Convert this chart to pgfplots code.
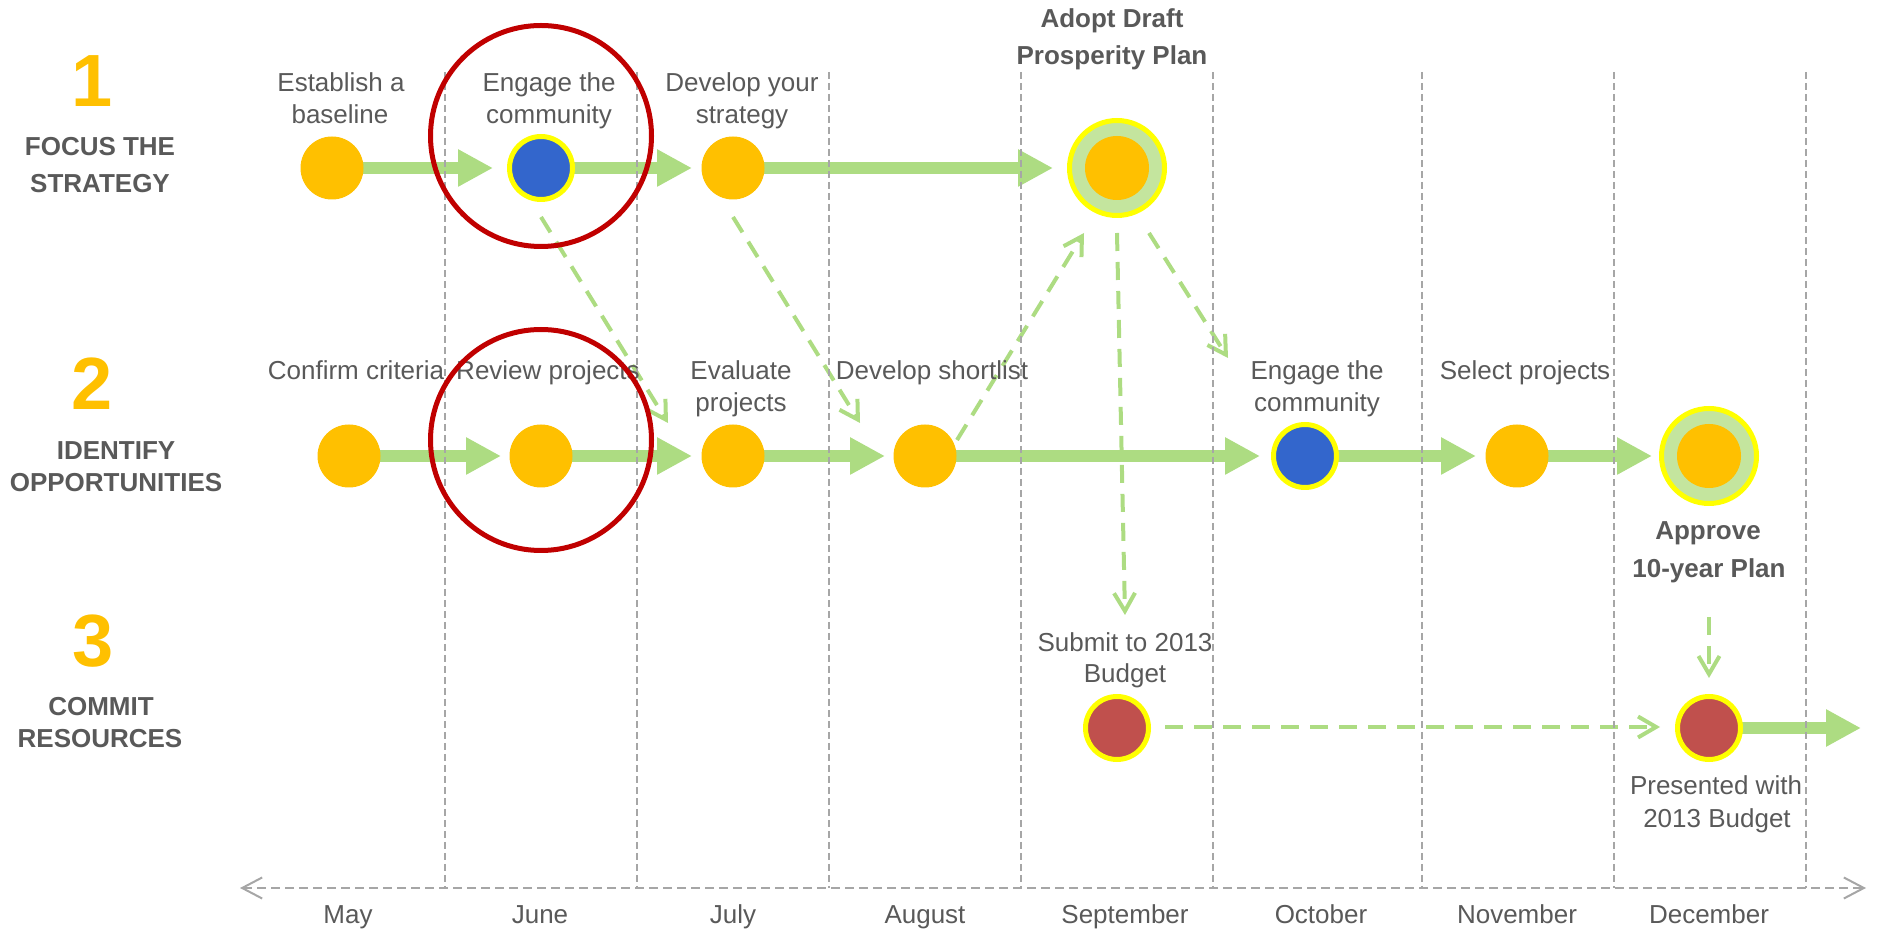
\documentclass[border=0pt]{standalone}
\usepackage{fontspec}
\setmainfont{Liberation Sans}
\usepackage{pgfplots}
\pgfplotsset{compat=1.18}
\usetikzlibrary{arrows.meta}
\definecolor{orng}{HTML}{FFC000}
\definecolor{blu}{HTML}{3366CC}
\definecolor{redc}{HTML}{C0504D}
\definecolor{yel}{HTML}{FFFF00}
\definecolor{ring}{HTML}{C4E59E}
\definecolor{arr}{HTML}{ADDC82}
\definecolor{grd}{HTML}{A6A6A6}
\definecolor{txt}{HTML}{595959}
\definecolor{dred}{HTML}{C00000}
\tikzset{
  gline/.style={grd, line width=1pt, dash pattern=on 3.5pt off 2pt},
  barrow/.style={arr, line width=5.75pt, -{Triangle[length=17.5pt,width=17.5pt]}},
  darrow/.style={arr, line width=2pt, dash pattern=on 9pt off 5.5pt, -{Straight Barb[length=9pt,width=10.5pt]}},
  lbl/.style={anchor=base, text=txt, inner sep=0pt, font=\fontsize{13pt}{16pt}\selectfont},
  blbl/.style={anchor=base, text=txt, inner sep=0pt, font=\bfseries\fontsize{13pt}{16pt}\selectfont},
  num/.style={anchor=base, text=orng, inner sep=0pt, font=\bfseries\fontsize{37pt}{40pt}\selectfont},
}
\begin{document}
\begin{tikzpicture}
\useasboundingbox (0,0) rectangle (940.5pt,469pt);
\begin{axis}[at={(0,0)}, anchor=south west, width=940.5pt, height=469pt, scale only axis,
  xmin=0, xmax=1881, ymin=-938, ymax=0, hide axis, clip=false]
% dashed connectors
\addplot[darrow] coordinates {(541,-217) (668,-423)};
\addplot[darrow] coordinates {(733,-217) (860,-423)};
\addplot[darrow] coordinates {(957,-440) (1084,-233)};
\addplot[darrow] coordinates {(1117,-233) (1125,-615)};
\addplot[darrow] coordinates {(1149,-233) (1228,-358)};
\addplot[darrow] coordinates {(1165,-727) (1660,-727)};
\addplot[darrow] coordinates {(1709,-617) (1709,-678)};
% main arrows row 1
\addplot[barrow] coordinates {(332,-168) (493,-168)};
\addplot[barrow] coordinates {(541,-168) (692,-168)};
\addplot[barrow] coordinates {(733,-168) (1053,-168)};
% row 2
\addplot[barrow] coordinates {(349,-456) (501,-456)};
\addplot[barrow] coordinates {(541,-456) (692,-456)};
\addplot[barrow] coordinates {(733,-456) (885,-456)};
\addplot[barrow] coordinates {(925,-456) (1260,-456)};
\addplot[barrow] coordinates {(1305,-456) (1476,-456)};
\addplot[barrow] coordinates {(1517,-456) (1652,-456)};
% row 3
\addplot[barrow] coordinates {(1709,-728) (1861,-728)};
% grid lines
\addplot[gline] coordinates {(445,-72) (445,-888)};
\addplot[gline] coordinates {(637,-72) (637,-888)};
\addplot[gline] coordinates {(829,-72) (829,-888)};
\addplot[gline] coordinates {(1021,-72) (1021,-888)};
\addplot[gline] coordinates {(1213,-72) (1213,-888)};
\addplot[gline] coordinates {(1422,-72) (1422,-888)};
\addplot[gline] coordinates {(1614,-72) (1614,-888)};
\addplot[gline] coordinates {(1806,-72) (1806,-888)};
\addplot[grd, line width=1pt, dash pattern=on 4.5pt off 2.5pt,
  {Straight Barb[length=10pt,width=10.5pt]}-{Straight Barb[length=10pt,width=10.5pt]}]
  coordinates {(240,-888) (1866,-888)};
% circles
\addplot[orng, only marks, mark=*, mark size=15.5pt, mark options={fill=orng, draw=orng, line width=0.5pt}]
  coordinates {(332,-168) (733,-168) (349,-456) (541,-456) (733,-456) (925,-456) (1517,-456)};
\addplot[yel, only marks, mark=*, mark size=15.75pt, mark options={fill=blu, draw=yel, line width=2.5pt}]
  coordinates {(541,-168) (1305,-456)};
\addplot[yel, only marks, mark=*, mark size=15.75pt, mark options={fill=redc, draw=yel, line width=2.5pt}]
  coordinates {(1117,-728) (1709,-728)};
\addplot[yel, only marks, mark=*, mark size=23.75pt, mark options={fill=ring, draw=yel, line width=2.5pt}]
  coordinates {(1117,-168) (1709,-456)};
\addplot[orng, only marks, mark=*, mark size=15.75pt, mark options={fill=orng, draw=orng, line width=0.5pt}]
  coordinates {(1117,-168) (1709,-456)};
% highlight rings
\addplot[dred, only marks, mark=o, mark size=55.25pt, mark options={draw=dred, line width=2.5pt}]
  coordinates {(541,-136) (541,-440)};
% left labels
\node[num] at (axis cs:92,-107) {1};
\node[blbl] at (axis cs:100,-156) {FOCUS THE};
\node[blbl] at (axis cs:100,-193) {STRATEGY};
\node[num] at (axis cs:92,-410) {2};
\node[blbl] at (axis cs:116,-460) {IDENTIFY};
\node[blbl] at (axis cs:116,-492) {OPPORTUNITIES};
\node[num] at (axis cs:93,-667) {3};
\node[blbl] at (axis cs:101,-716) {COMMIT};
\node[blbl] at (axis cs:100,-748) {RESOURCES};
% row 1 labels
\node[lbl] at (axis cs:341,-92) {Establish a};
\node[lbl] at (axis cs:340,-123.5) {baseline};
\node[lbl] at (axis cs:549,-92) {Engage the};
\node[lbl] at (axis cs:549,-123.5) {community};
\node[lbl] at (axis cs:742,-92) {Develop your};
\node[lbl] at (axis cs:742,-123.5) {strategy};
\node[blbl] at (axis cs:1112,-28) {Adopt Draft};
\node[blbl] at (axis cs:1112,-65) {Prosperity Plan};
% row 2 labels
\node[lbl] at (axis cs:356,-380) {Confirm criteria};
\node[lbl] at (axis cs:548,-380) {Review projects};
\node[lbl] at (axis cs:741,-380) {Evaluate};
\node[lbl] at (axis cs:741,-412) {projects};
\node[lbl] at (axis cs:932,-380) {Develop shortlist};
\node[lbl] at (axis cs:1317,-380) {Engage the};
\node[lbl] at (axis cs:1317,-412) {community};
\node[lbl] at (axis cs:1525,-380) {Select projects};
\node[blbl] at (axis cs:1708,-540) {Approve};
\node[blbl] at (axis cs:1709,-578) {10-year Plan};
% row 3 labels
\node[lbl] at (axis cs:1125,-652) {Submit to 2013};
\node[lbl] at (axis cs:1125,-683) {Budget};
\node[lbl] at (axis cs:1716,-795) {Presented with};
\node[lbl] at (axis cs:1717,-827) {2013 Budget};
% months
\node[lbl] at (axis cs:348,-923) {May};
\node[lbl] at (axis cs:540,-923) {June};
\node[lbl] at (axis cs:733,-923) {July};
\node[lbl] at (axis cs:925,-923) {August};
\node[lbl] at (axis cs:1125,-923) {September};
\node[lbl] at (axis cs:1321,-923) {October};
\node[lbl] at (axis cs:1517,-923) {November};
\node[lbl] at (axis cs:1709,-923) {December};
\end{axis}
\end{tikzpicture}
\end{document}
